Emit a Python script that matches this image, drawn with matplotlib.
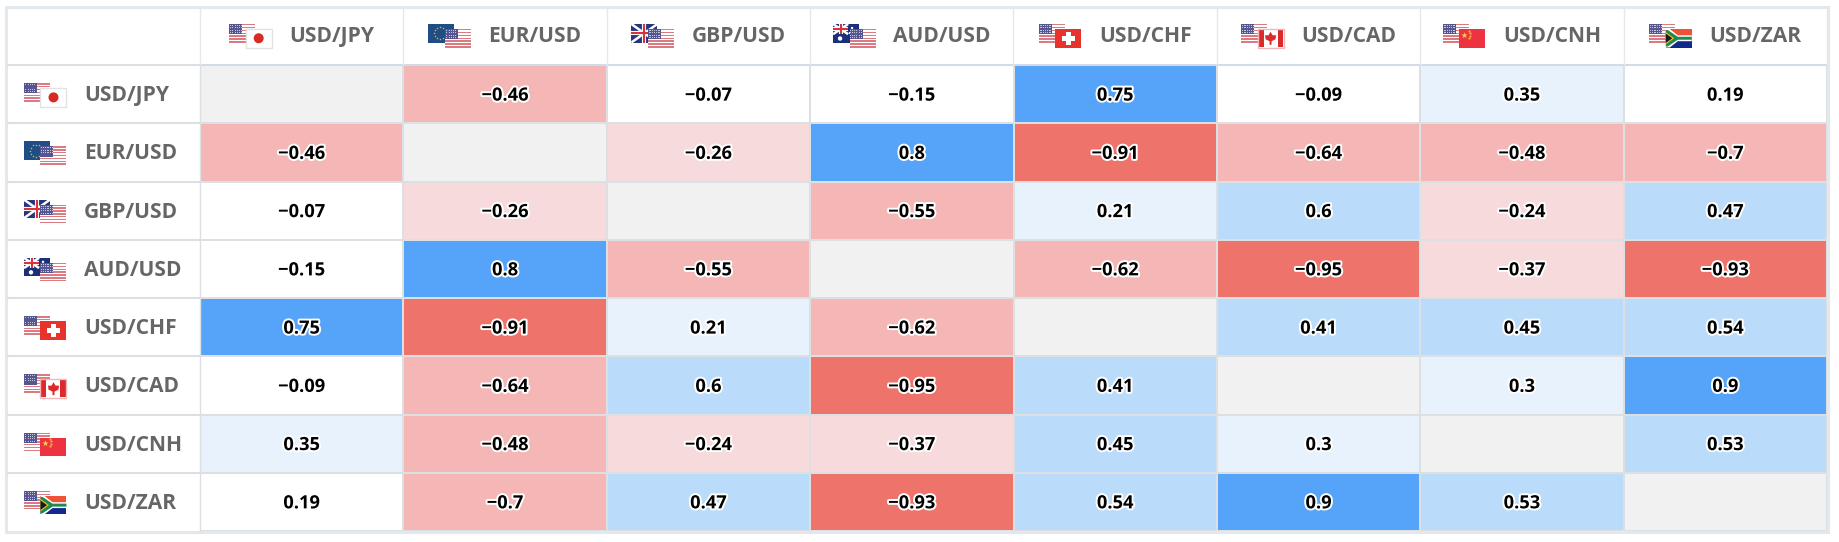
import numpy as np
import matplotlib
matplotlib.use("Agg")
import matplotlib.pyplot as plt
import matplotlib.patheffects as pe
from matplotlib.colors import ListedColormap, BoundaryNorm
from matplotlib.patches import Rectangle, Circle, Polygon

pairs = ["USD/JPY", "EUR/USD", "GBP/USD", "AUD/USD", "USD/CHF", "USD/CAD", "USD/CNH", "USD/ZAR"]
flag_codes = [("us", "jp"), ("eu", "us"), ("gb", "us"), ("au", "us"), ("us", "ch"), ("us", "ca"), ("us", "cn"), ("us", "za")]
corr = [
    [None, -0.46, -0.07, -0.15, 0.75, -0.09, 0.35, 0.19],
    [-0.46, None, -0.26, 0.8, -0.91, -0.64, -0.48, -0.7],
    [-0.07, -0.26, None, -0.55, 0.21, 0.6, -0.24, 0.47],
    [-0.15, 0.8, -0.55, None, -0.62, -0.95, -0.37, -0.93],
    [0.75, -0.91, 0.21, -0.62, None, 0.41, 0.45, 0.54],
    [-0.09, -0.64, 0.6, -0.95, 0.41, None, 0.3, 0.9],
    [0.35, -0.48, -0.24, -0.37, 0.45, 0.3, None, 0.53],
    [0.19, -0.7, 0.47, -0.93, 0.54, 0.9, 0.53, None],
]
bins = [-1, -0.75, -0.4, -0.2, 0.2, 0.4, 0.7, 1]
bin_colors = ["#EE736B", "#F4B7B6", "#F7DADB", "#FFFFFF", "#E7F2FC", "#BBDBFB", "#55A4F9"]

W, H = 1840, 542
L, R, T, B = 7.5, 1827, 8, 531
HX, HY = 200, 65
FONT = "Open Sans"
GRID = "#DDE0E2"

fig = plt.figure(figsize=(W / 100, H / 100), dpi=100, facecolor="white")
page = fig.add_axes([0, 0, 1, 1], zorder=1)
page.set_xlim(0, W); page.set_ylim(H, 0); page.axis("off")

heat = fig.add_axes([HX / W, 1 - B / H, (R - HX) / W, (B - HY) / H], zorder=0)
vals = np.array([[np.nan if v is None else v for v in row] for row in corr], float)
n = len(pairs)
cmap = ListedColormap(bin_colors); cmap.set_bad("#F1F1F1")
heat.pcolormesh(np.arange(n + 1), np.arange(n + 1), np.ma.masked_invalid(vals),
                cmap=cmap, norm=BoundaryNorm(bins, cmap.N), edgecolors=GRID, linewidth=1.3)
heat.set_xlim(0, n); heat.set_ylim(n, 0); heat.axis("off")
halo = [pe.withStroke(linewidth=2.8, foreground="white")]
rh = (B - HY) / n
cw = (R - HX) / n
for i in range(n):
    for j in range(n):
        if corr[i][j] is not None:
            heat.text(j + 0.5, i + 0.5 + 1.5 / rh, str(corr[i][j]).replace("-", "\u2212"), ha="center", va="center",
                      fontsize=13.2, fontweight="bold", family=FONT, color="black", path_effects=halo)

# frame and header lines
for y in [HY + rh * i for i in range(n)]:
    page.plot([L, HX], [y, y], color=GRID, lw=1.5, solid_capstyle="butt")
page.plot([HX, R], [HY, HY], color="#D3DCE6", lw=1.5, solid_capstyle="butt")
for i in range(n + 1):
    x = HX + cw * i
    page.plot([x, x], [T, HY], color="#E6E8EA", lw=1.0, solid_capstyle="butt")
page.plot([HX, HX], [HY, B], color=GRID, lw=1.0)
page.add_patch(Rectangle((L - 1, T - 1), R - L + 2, B - T + 2, fill=False, ec="#E2E8EB", lw=2.2))


def rect(x, y, w, h, c, z=3, **k):
    page.add_patch(Rectangle((x, y), w, h, fc=c, ec="none", zorder=z, **k))


def flag(code, x, y, z):
    w, h = 26, 18.5
    if code == "us":
        rect(x, y, w, h, "white", z)
        for s in range(0, 7):
            rect(x, y + s * h / 6.5, w, h / 13, "#DB7A80", z)
        rect(x, y, w * 0.5, h * 0.56, "#55558F", z)
        for a in range(7):
            for b in range(4):
                rect(x + 0.8 + a * 1.8, y + 1 + b * 2.4, 0.9, 0.9, "#C4C4DC", z)
    elif code == "jp":
        rect(x, y, w, h, "white", z)
        page.add_patch(Rectangle((x, y), w, h, fill=False, ec="#E2E2E2", lw=1, zorder=z))
        page.add_patch(Circle((x + w / 2, y + h / 2), 5, fc="#D62A22", ec="none", zorder=z))
    elif code == "eu":
        rect(x, y, w, h, "#1F4E86", z)
        t = np.linspace(0, 2 * np.pi, 12, endpoint=False)
        page.scatter(x + 12 + 6 * np.cos(t), y + h / 2 + 6 * np.sin(t), s=1.2, c="#C9B94A", zorder=z, lw=0)
    elif code in ("gb", "au"):
        rw, rh2 = (w, h) if code == "gb" else (w * 0.58, h * 0.55)
        rect(x, y, w, h, "#1B2F7A" if code == "au" else "#25357E", z)
        page.plot([x, x + rw], [y, y + rh2], color="white", lw=1.8, zorder=z, solid_capstyle="butt")
        page.plot([x, x + rw], [y + rh2, y], color="white", lw=1.8, zorder=z, solid_capstyle="butt")
        page.plot([x, x + rw], [y + rh2 / 2, y + rh2 / 2], color="white", lw=3, zorder=z, solid_capstyle="butt")
        page.plot([x + rw / 2, x + rw / 2], [y, y + rh2], color="white", lw=3, zorder=z, solid_capstyle="butt")
        page.plot([x, x + rw], [y + rh2 / 2, y + rh2 / 2], color="#D8333B", lw=1.5, zorder=z, solid_capstyle="butt")
        page.plot([x + rw / 2, x + rw / 2], [y, y + rh2], color="#D8333B", lw=1.5, zorder=z, solid_capstyle="butt")
        if code == "au":
            page.scatter([x + 7, x + 19, x + 23, x + 17], [y + 14.5, y + 4, y + 8, y + 9], s=[10, 3, 3, 3], c="white", zorder=z, lw=0)
    elif code == "ch":
        rect(x, y, w, h, "#E8322C", z)
        rect(x + w / 2 - 6.5, y + h / 2 - 2.3, 13, 4.6, "white", z)
        rect(x + w / 2 - 2.3, y + h / 2 - 6.5, 4.6, 13, "white", z)
    elif code == "ca":
        rect(x, y, w, h, "white", z)
        rect(x + 0.8, y + 0.8, 5.2, h - 1.6, "#DC2A2A", z)
        rect(x + w - 6, y + 0.8, 5.2, h - 1.6, "#DC2A2A", z)
        page.add_patch(Rectangle((x, y), w, h, fill=False, ec="#F0B8B8", lw=1, zorder=z))
        c = x + w / 2
        m = y + h / 2
        page.add_patch(Polygon([(c, m - 6.5), (c + 2, m - 3), (c + 5.5, m - 3), (c + 5, m + 1), (c + 1, m + 3), (c + 1, m + 6.5),
                                (c - 1, m + 6.5), (c - 1, m + 3), (c - 5, m + 1), (c - 5.5, m - 3), (c - 2, m - 3)],
                               fc="#DC2A2A", ec="none", zorder=z))
    elif code == "cn":
        rect(x, y, w, h, "#EE3340", z)
        page.scatter([x + 5], [y + 5.5], s=22, c="#F7D14A", marker="*", zorder=z, lw=0)
        page.scatter([x + 9.5, x + 11, x + 11, x + 9.5], [y + 1.8, y + 3.8, y + 6.8, y + 8.8], s=2.5, c="#F0B040", zorder=z, lw=0)
    elif code == "za":
        rect(x, y, w, h / 2, "#EE5238", z)
        rect(x, y + h / 2, w, h / 2, "#0F2A8C", z)
        page.add_patch(Polygon([(x, y), (x + 4, y), (x + 12, y + h * 0.34), (x + w, y + h * 0.34), (x + w, y + h * 0.66),
                                (x + 12, y + h * 0.66), (x + 4, y + h), (x, y + h)], fc="white", ec="none", zorder=z))
        page.add_patch(Polygon([(x, y + 1), (x + 2, y + 1), (x + 12, y + h * 0.42), (x + w, y + h * 0.42), (x + w, y + h * 0.58),
                                (x + 12, y + h * 0.58), (x + 2, y + h - 1), (x, y + h - 1)], fc="#1F8A4C", ec="none", zorder=z))
        page.add_patch(Polygon([(x, y + 3), (x + 8.5, y + h / 2), (x, y + h - 3)], fc="#E8B92F", ec="none", zorder=z))
        page.add_patch(Polygon([(x, y + 4.5), (x + 6.5, y + h / 2), (x, y + h - 4.5)], fc="#1A1A1A", ec="none", zorder=z))


def pair_flags(codes, x, y):
    flag(codes[0], x, y, 3)
    flag(codes[1], x + 16.5, y + 5, 4)


label_kw = dict(fontsize=15.1, fontweight="bold", family=FONT, color="#666666", va="center", ha="left")
fig.canvas.draw()
rend = fig.canvas.get_renderer()
for i, name in enumerate(pairs):
    cy = HY + rh * (i + 0.5)
    pair_flags(flag_codes[i], 24, cy - 11)
    page.text(84, cy + 1.5, name, **label_kw)
    t = page.text(0, 36.5, name, **label_kw)
    tw = t.get_window_extent(rend).width
    cx = HX + cw * (i + 0.5)
    x0 = cx - (60 + tw) / 2
    t.set_x(x0 + 60)
    pair_flags(flag_codes[i], x0, 24)

fig.savefig("out.png", dpi=100, facecolor="white")
